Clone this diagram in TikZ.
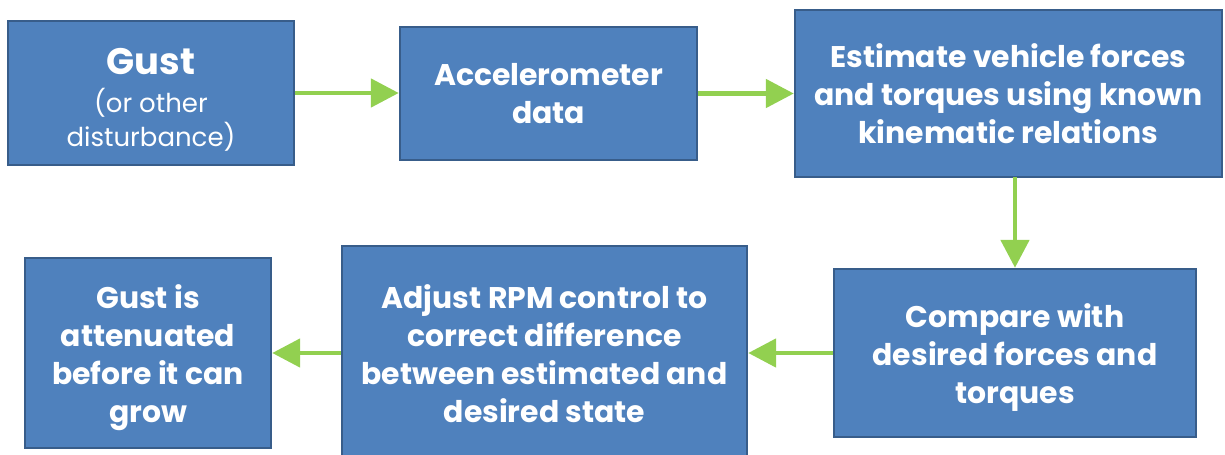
\documentclass[tikz,border=0pt]{standalone}
\usepackage{fontspec}
\setmainfont{Poppins}
\usepackage{tikz}
\usetikzlibrary{arrows.meta}
\definecolor{boxfill}{HTML}{4F81BD}
\definecolor{boxline}{HTML}{385D8A}
\definecolor{flowgreen}{HTML}{92D050}

\begin{document}
\begin{tikzpicture}[
  x=0.02cm, y=-0.02cm,
  blk/.style={draw=boxline, fill=boxfill, line width=1.4pt, text=white, align=center,
              inner sep=0pt, font=\fontsize{17}{21.6}\selectfont\bfseries},
  fl/.style={flowgreen, line width=2.8pt, -{Triangle[length=0.56cm, width=0.56cm]}},
]
  \useasboundingbox (0,0) rectangle (1225,454);
  \clip (0,0) rectangle (1225,454);

  %=================== top row ===================
  \node[blk, minimum width=5.72cm, minimum height=2.88cm] (gust) at (151,93)
       {\rule{0pt}{23pt}\fontsize{21}{26}\selectfont Gust\\[0pt]
        \fontsize{14.8}{17}\selectfont\mdseries (or other\\[-2pt]
        \fontsize{14.8}{17}\selectfont\mdseries disturbance)};
  \node[blk, minimum width=5.94cm, minimum height=2.66cm] (accel) at (548.5,93.5)
       {Accelerometer\\data};
  \node[blk, minimum width=8.54cm, minimum height=3.34cm] (estim) at (1008.5,93.5)
       {Estimate vehicle forces\\and torques using known\\kinematic relations};

  %=================== bottom row ===================
  \node[blk, minimum width=7.24cm, minimum height=3.36cm] (comp) at (1015,353)
       {\rule{0pt}{19pt}Compare with\\desired forces and\\torques};
  \node[blk, minimum width=8.10cm, minimum height=4.32cm] (adj) at (544.5,354)
       {Adjust RPM control to\\correct difference\\between estimated and\\desired state};
  \node[blk, minimum width=4.92cm, minimum height=3.80cm] (atten) at (148,353)
       {\rule{0pt}{19pt}Gust is\\attenuated\\before it can\\grow};

  %=================== flow ===================
  \draw[fl] (gust.east) -- (accel.west |- gust.east);
  \draw[fl] (accel.east) -- (estim.west |- accel.east);
  \draw[fl] (1015,177) -- (comp.north);
  \draw[fl] (comp.west) -- (adj.east |- comp.west);
  \draw[fl] (adj.west |- comp.west) -- (atten.east);
\end{tikzpicture}
\end{document}
